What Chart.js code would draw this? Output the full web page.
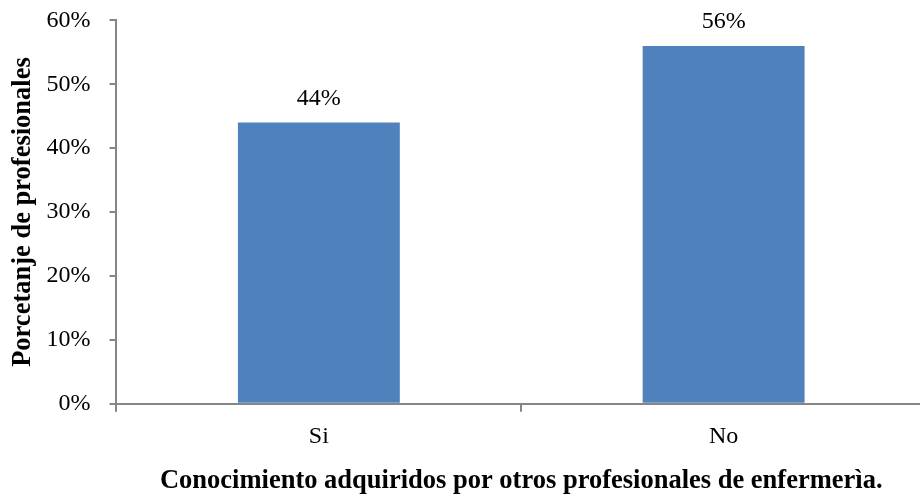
<!DOCTYPE html>
<html>
<head>
<meta charset="utf-8">
<script src="https://cdn.jsdelivr.net/npm/chart.js@4"></script>
<style>
  html, body { margin: 0; padding: 0; background: #fff; overflow: hidden; }
  #wrap { width: 926px; height: 494px; }
</style>
</head>
<body>
<div id="wrap"><canvas id="bar"></canvas></div>
<script>
const categories = ["Si", "No"];
const values = [44, 56];
const yTicks = [0, 10, 20, 30, 40, 50, 60];

const axisGray = '#868686';
const serif = "'Liberation Serif', 'Times New Roman', serif";

// draws the % on top of each bar
const barLabels = {
	id: 'barLabels',
	afterDatasetsDraw(chart) {
		const ctx = chart.ctx;
		const meta = chart.getDatasetMeta(0);
		ctx.save();
		ctx.font = '24px ' + serif;
		ctx.fillStyle = '#000';
		ctx.textAlign = 'center';
		ctx.textBaseline = 'middle';
		meta.data.forEach((bar, i) => {
			ctx.fillText(values[i] + '%', bar.x, bar.y - 24);
		});
		ctx.restore();
	}
};

new Chart(document.getElementById('bar'), {
	type: 'bar',
	data: {
		labels: categories,
		datasets: [{
			data: values,
			backgroundColor: '#4F81BD',
			categoryPercentage: 1,
			barPercentage: 0.4
		}]
	},
	options: {
		responsive: true,
		maintainAspectRatio: false,
		animation: false,
		layout: { padding: { top: 14, left: 10, right: 0, bottom: 0 } },
		plugins: {
			legend: { display: false },
			tooltip: { enabled: false }
		},
		scales: {
			x: {
				grid: { display: true, offset: true, drawOnChartArea: false, tickLength: 8, color: axisGray, lineWidth: 2 },
				border: { color: axisGray, width: 2 },
				ticks: { color: '#000', font: { family: serif, size: 24 }, padding: 11 },
				title: {
					display: true,
					text: 'Conocimiento adquiridos por otros profesionales de enfermerìa.',
					color: '#000',
					font: { family: serif, size: 26.5, weight: 'bold', lineHeight: 1 },
					padding: { top: 5, bottom: 0 }
				}
			},
			y: {
				min: 0,
				max: 60,
				afterBuildTicks(axis) { axis.ticks = yTicks.map(v => ({ value: v })); },
				// long tick slot, only the inner 7px are drawn -> gap between label and mark
				grid: { display: true, drawOnChartArea: false, tickLength: 20, tickBorderDash: [0, 13, 7, 0], color: axisGray, lineWidth: 2 },
				border: { color: axisGray, width: 2 },
				ticks: {
					color: '#000',
					font: { family: serif, size: 24 },
					padding: 6,
					callback: v => v + '%'
				},
				title: {
					display: true,
					text: 'Porcetanje de profesionales',
					color: '#000',
					font: { family: serif, size: 26.5, weight: 'bold', lineHeight: 1 },
					padding: { top: 0, bottom: 4 }
				}
			}
		}
	},
	plugins: [barLabels]
});
</script>
</body>
</html>
